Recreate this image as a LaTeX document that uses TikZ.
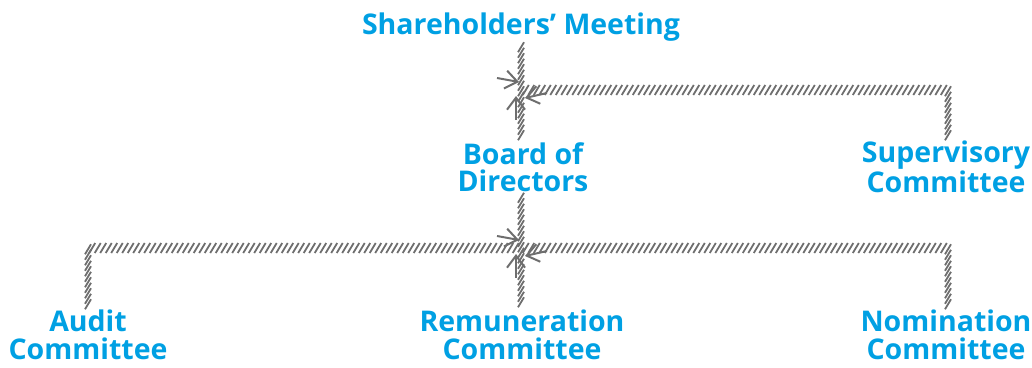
\documentclass[tikz,border=0pt]{standalone}
\usepackage{fontspec}
\setmainfont{Open Sans}
\usetikzlibrary{decorations.markings,arrows.meta}

\definecolor{orgblue}{RGB}{0,160,227}
\definecolor{linkgray}{RGB}{110,110,110}

\tikzset{
	unit/.style={font=\bfseries\fontsize{28.5}{27.5}\selectfont,text=orgblue,align=center,inner sep=0pt,outer sep=6pt},
	hatch/.style={decoration={markings,
		mark=between positions 0 and 1 step 5.5pt with {\pgftransformresetnontranslations
			\draw[linkgray,line width=1.8pt] (-3pt,-5pt) -- (3pt,5pt);}},
		postaction={decorate}},
	tip/.style={linkgray,line width=2pt,-{Straight Barb[length=12pt,width=18pt]}}
}

\begin{document}
\begin{tikzpicture}[x=1pt,y=-1pt]
	\useasboundingbox (0,0) rectangle (1032,367);

	% units
	\node[unit] (sm) at (521,27) {Shareholders’ Meeting};
	\node[unit] (bd) at (523,167) {Board of\\Directors};
	\node[unit] (sv) at (946,167) {Supervisory\\Committee};
	\node[unit] (au) at (88,335) {Audit\\Committee};
	\node[unit] (rm) at (522,335) {Remuneration\\Committee};
	\node[unit] (nm) at (946,335) {Nomination\\Committee};

	\coordinate (j1) at (521,90);
	\coordinate (j2) at (521,248);

	% links
	\begin{scope}
		\path[hatch] (sm.south -| j1) -- (bd.north -| j1);
		\path[hatch] (sv.north -| 948,0) |- (j1);
		\path[hatch] (bd.south -| j2) -- (rm.north -| j2);
		\path[hatch] (au.north) |- (j2);
		\path[hatch] (nm.north -| 948,0) |- (j2);
	\end{scope}

	% junction tips
	\foreach \j in {j1,j2}
		{
			\draw[tip] (\j) ++(-24,-12) -- ++(22,4);
			\draw[tip] (\j) ++(26,3) -- ++(-22,5);
			\draw[tip] (\j) ++(-5,30) -- ++(0,-24);
		}
\end{tikzpicture}
\end{document}
